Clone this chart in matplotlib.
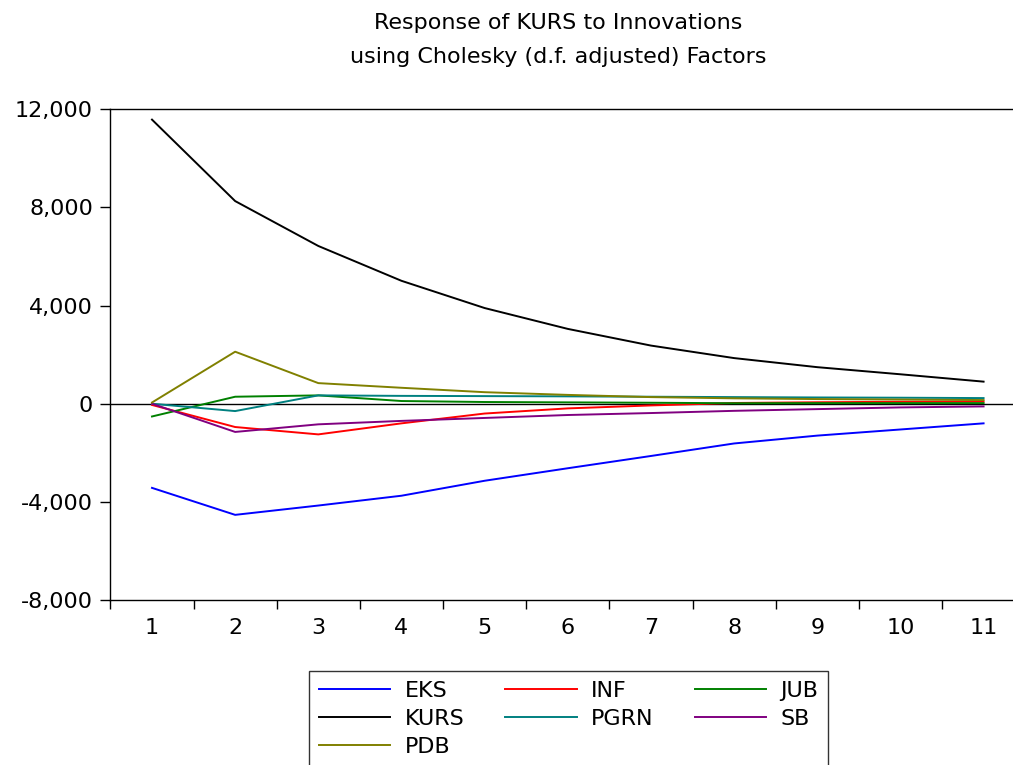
import numpy as np
import matplotlib
matplotlib.use('Agg')
from matplotlib import pyplot as plt

plt.rcParams['font.family'] = ['DejaVu Sans']

periods = np.arange(1, 12)

eks = [-3430, -4530, -4150, -3750, -3140, -2630, -2130, -1620, -1300, -1050, -800]
inf = [-50, -950, -1250, -800, -400, -190, -70, 30, 60, 80, 90]
jub = [-520, 285, 340, 110, 70, 55, 40, 20, 25, 25, 25]
kurs = [11580, 8260, 6430, 5010, 3900, 3050, 2370, 1860, 1490, 1200, 900]
pgrn = [0, -300, 340, 320, 310, 300, 285, 270, 255, 245, 230]
sb = [0, -1150, -840, -700, -580, -460, -380, -290, -220, -150, -110]
pdb = [50, 2120, 840, 650, 470, 360, 270, 220, 190, 170, 150]

series = [
    ('EKS', eks, '#0000ff'),
    ('INF', inf, '#ff0000'),
    ('JUB', jub, '#008000'),
    ('KURS', kurs, '#000000'),
    ('PGRN', pgrn, '#008080'),
    ('SB', sb, '#800080'),
    ('PDB', pdb, '#808000'),
]

fig = plt.figure(figsize=(10.13, 7.65), dpi=100)
ax = fig.add_axes([0.109, 0.2157, 0.903, 0.6414])

ax.axhline(0, color='black', lw=1.0, zorder=1)
lines = {}
for name, vals, col in series:
    lines[name], = ax.plot(periods, vals, color=col, lw=1.4, label=name, zorder=2)

ax.set_xlim(0.5, 11.5)
ax.set_ylim(-8000, 12000)
ax.set_yticks([-8000, -4000, 0, 4000, 8000, 12000])
ax.set_yticklabels(['-8,000', '-4,000', '0', '4,000', '8,000', '12,000'])

# ticks sit between periods, labels under each period
ax.set_xticks(np.arange(0.5, 11.6, 1.0))
ax.set_xticklabels([])
ax.set_xticks(periods, minor=True)
ax.set_xticklabels([str(p) for p in periods], minor=True)
ax.tick_params(axis='x', which='major', direction='out', length=6.5, width=1)
ax.tick_params(axis='x', which='minor', length=0, pad=13, labelsize=16)
ax.tick_params(axis='y', direction='out', length=7.5, width=1, pad=5, labelsize=16)

for sp in ax.spines.values():
    sp.set_linewidth(1.0)

fig.text(0.551, 0.983, 'Response of KURS to Innovations\nusing Cholesky (d.f. adjusted) Factors',
         ha='center', va='top', fontsize=16, linespacing=1.9)

order = ['EKS', 'KURS', 'PDB', 'INF', 'PGRN', 'JUB', 'SB']
leg = fig.legend([lines[n] for n in order], order, ncol=3,
                 loc='upper center', bbox_to_anchor=(0.5613, 1 - 671 / 765),
                 fontsize=16, frameon=True, fancybox=False, shadow=False,
                 handlelength=3.2, handletextpad=0.65, columnspacing=1.85,
                 labelspacing=0.35, borderpad=0.45, borderaxespad=0)
leg.get_frame().set_edgecolor('black')
leg.get_frame().set_linewidth(1.0)
for h in leg.get_lines():
    h.set_linewidth(1.4)

fig.savefig('out.png', dpi=100)
